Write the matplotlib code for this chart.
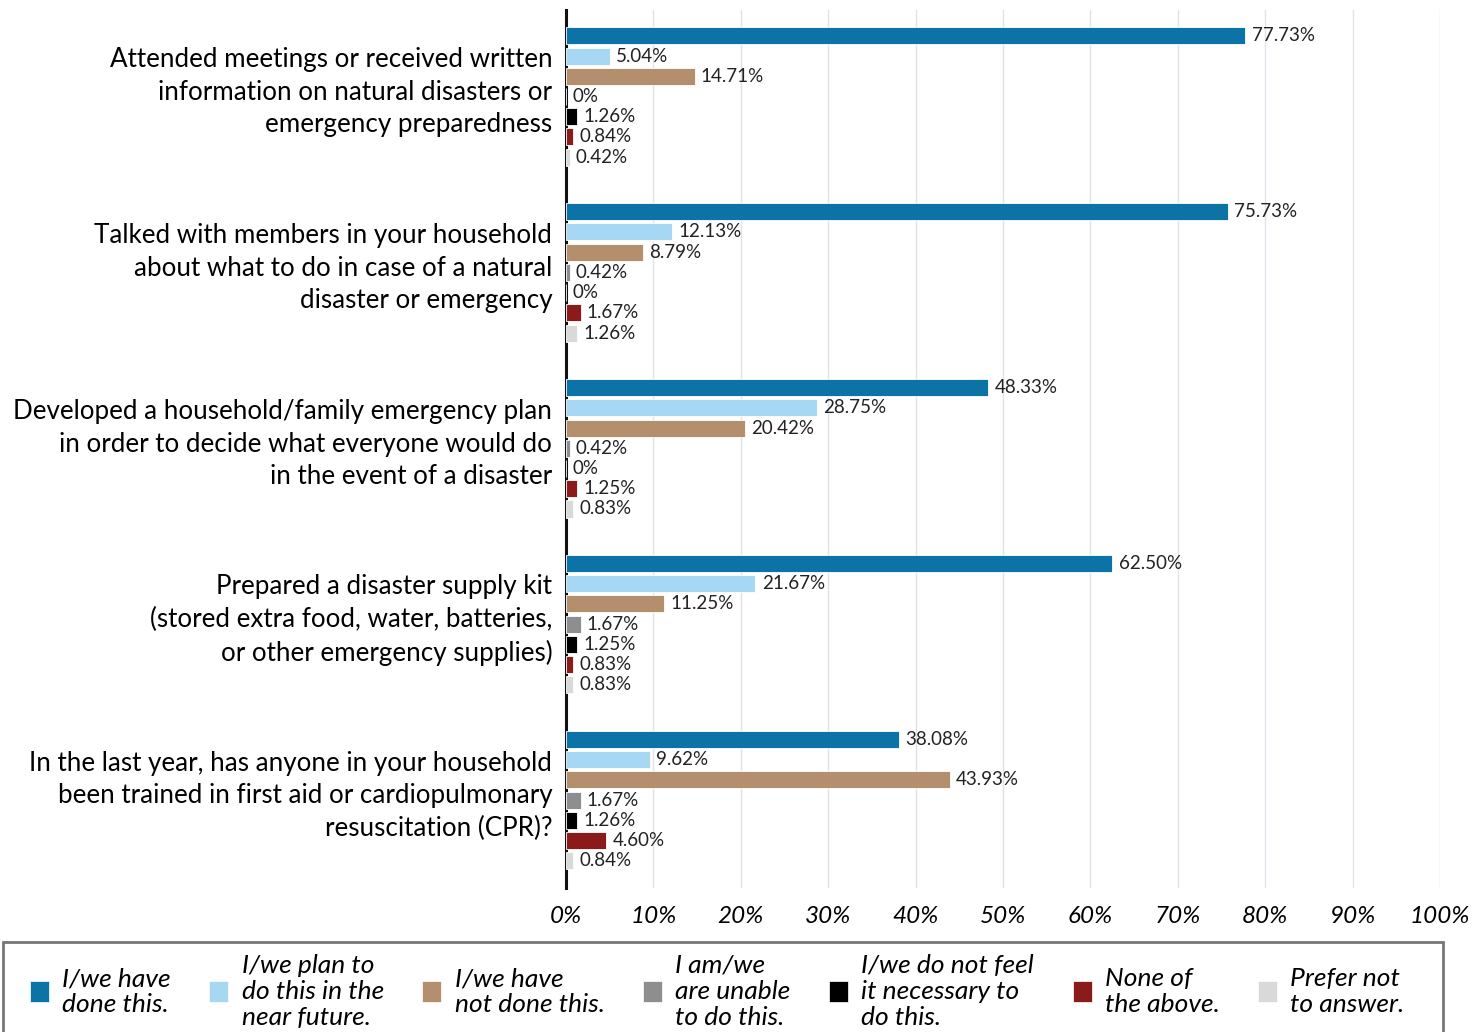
import numpy as np
import matplotlib.pyplot as plt
from matplotlib.ticker import PercentFormatter

questions = [
    "Attended meetings or received written\ninformation on natural disasters or\nemergency preparedness",
    "Talked with members in your household\nabout what to do in case of a natural\ndisaster or emergency",
    "Developed a household/family emergency plan\nin order to decide what everyone would do\nin the event of a disaster",
    "Prepared a disaster supply kit\n(stored extra food, water, batteries,\nor other emergency supplies)",
    "In the last year, has anyone in your household\nbeen trained in first aid or cardiopulmonary\nresuscitation (CPR)?",
]
responses = [
    "I/we have\ndone this.",
    "I/we plan to\ndo this in the\nnear future.",
    "I/we have\nnot done this.",
    "I am/we\nare unable\nto do this.",
    "I/we do not feel\nit necessary to\ndo this.",
    "None of\nthe above.",
    "Prefer not\nto answer.",
]
done = [77.73, 75.73, 48.33, 62.50, 38.08]
plan = [5.04, 12.13, 28.75, 21.67, 9.62]
not_done = [14.71, 8.79, 20.42, 11.25, 43.93]
unable = [0, 0.42, 0.42, 1.67, 1.67]
not_necessary = [1.26, 0, 0, 1.25, 1.26]
none_above = [0.84, 1.67, 1.25, 0.83, 4.60]
no_answer = [0.42, 1.26, 0.83, 0.83, 0.84]

series = [done, plan, not_done, unable, not_necessary, none_above, no_answer]
colors = ["#0b73a6", "#a6d8f3", "#b38f6e", "#8e8e90", "#000000", "#8b1a1a", "#d9d9d9"]

plt.rcParams['font.family'] = ['Lato', 'DejaVu Sans']

fig = plt.figure(figsize=(14.78, 10.32), dpi=100)
ax = fig.add_axes([0.383, 0.1395, 0.5913, 0.8505])

y = np.arange(len(questions))
step = 0.115
h = 0.097
for i, (vals, c) in enumerate(zip(series, colors)):
    pos = y + (i - 3) * step
    bars = ax.barh(pos, vals, height=h, color=c, edgecolor='white', linewidth=0.6, zorder=3)
    labels = ["0%" if v == 0 else f"{v:.2f}%" for v in vals]
    ax.bar_label(bars, labels=labels, padding=4.5, fontsize=13.5, color='#222222')

ax.set_xlim(0, 100)
ax.set_ylim(4.5, -0.49)
ax.set_xticks(np.arange(0, 101, 10))
ax.xaxis.set_major_formatter(PercentFormatter(decimals=0))
# question labels sit slightly above the middle of each group
ax.set_yticks(y - 0.06)
ax.set_yticklabels(questions, fontsize=18.7, linespacing=1.38)
ax.tick_params(axis='y', length=0, pad=10)
ax.tick_params(axis='x', length=0, pad=13, labelsize=17.5)
for t in ax.get_xticklabels():
    t.set_fontstyle('italic')
ax.grid(axis='x', color='#dde3e6', linewidth=1, zorder=0)
for s in ['top', 'right', 'bottom']:
    ax.spines[s].set_visible(False)
ax.spines['left'].set_linewidth(2.2)
ax.spines['left'].set_color('#111111')

# legend box (runs off the bottom edge like the original)
box = plt.Rectangle((0.002, -0.02), 0.974, 0.1072, transform=fig.transFigure,
                    fill=False, edgecolor='#777777', linewidth=2)
fig.patches.append(box)

handles = [plt.Rectangle((0, 0), 1, 1, color=c, ec='white', lw=0.5) for c in colors]
leg = fig.legend(handles, responses, loc='upper left', ncol=7, mode='expand',
                 bbox_to_anchor=(0.0203, -0.03, 0.930, 0.1056),
                 prop={'size': 19, 'style': 'italic'}, frameon=False,
                 handlelength=0.72, handleheight=0.85, handletextpad=0.5,
                 borderpad=0, borderaxespad=0, labelspacing=0.2)
for t in leg.get_texts():
    t.set_linespacing(1.16)

fig.savefig("out.png", dpi=100)
